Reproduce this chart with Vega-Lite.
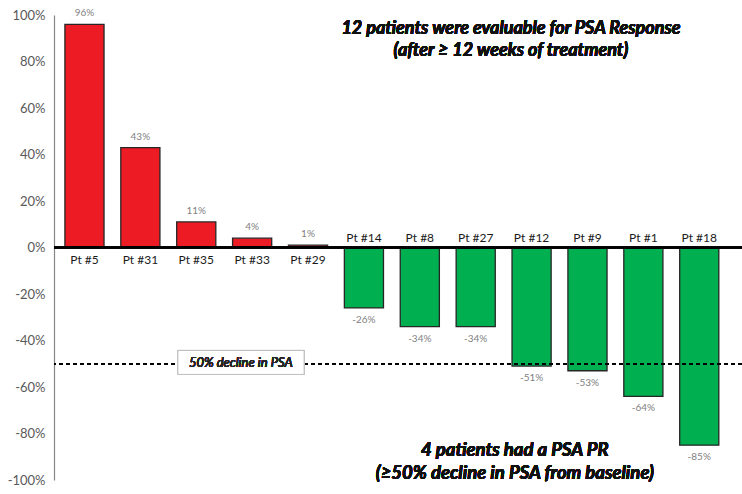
{
  "$schema": "https://vega.github.io/schema/vega-lite/v6.json",
  "autosize": {"type": "none"},
  "width": 688,
  "height": 465,
  "padding": {"left": 54, "top": 15, "right": 0, "bottom": 14},
  "background": "white",
  "config": {"view": {"stroke": null}, "font": "Lato"},
  "data": {"values": [
    {"pt": "Pt #5", "pct": 96},
    {"pt": "Pt #31", "pct": 43},
    {"pt": "Pt #35", "pct": 11},
    {"pt": "Pt #33", "pct": 4},
    {"pt": "Pt #29", "pct": 1},
    {"pt": "Pt #14", "pct": -26},
    {"pt": "Pt #8", "pct": -34},
    {"pt": "Pt #27", "pct": -34},
    {"pt": "Pt #12", "pct": -51},
    {"pt": "Pt #9", "pct": -53},
    {"pt": "Pt #1", "pct": -64},
    {"pt": "Pt #18", "pct": -85}
  ]},
  "transform": [{"calculate": "datum.pct + '%'", "as": "lab"}],
  "encoding": {
    "x": {"field": "pt", "type": "nominal", "sort": null, "axis": null,
      "scale": {"paddingInner": 0.3, "paddingOuter": 0.305, "align": 0.32}}
  },
  "layer": [
    {
      "mark": {"type": "bar", "stroke": "#262626", "strokeWidth": 1.3},
      "encoding": {
        "y": {"field": "pct", "type": "quantitative",
          "scale": {"domain": [-100, 100], "nice": false},
          "axis": {"values": [-100, -80, -60, -40, -20, 0, 20, 40, 60, 80, 100],
            "labelExpr": "datum.value + '%'", "title": null, "grid": false, "ticks": false,
            "domainColor": "#868686", "domainWidth": 1.2, "labelColor": "#595959",
            "labelFontSize": 13, "labelPadding": 9, "labelFont": "Lato"}},
        "fill": {"condition": {"test": "datum.pct > 0", "value": "#ED1C24"}, "value": "#00B050"}
      }
    },
    {
      "mark": {"type": "rule", "color": "black", "strokeWidth": 1.3},
      "encoding": {"y": {"datum": 0, "type": "quantitative"}, "x": null}
    },
    {
      "mark": {"type": "rule", "color": "black", "strokeWidth": 1, "strokeDash": [4, 3]},
      "encoding": {"y": {"datum": -50, "type": "quantitative"}, "x": null}
    },
    {
      "mark": {"type": "rect", "fill": "white", "stroke": "#BFBFBF", "strokeWidth": 1},
      "encoding": {
        "x": {"datum": "Pt #35", "bandPosition": 0.03},
        "x2": {"datum": "Pt #29", "bandPosition": 0.4},
        "y": {"datum": -44.3, "type": "quantitative"},
        "y2": {"datum": -54.6}
      }
    },
    {
      "mark": {"type": "text", "fontSize": 13, "fontStyle": "italic", "fontWeight": "normal", "color": "#262626"},
      "encoding": {
        "x": {"datum": "Pt #33", "bandPosition": 0.21},
        "y": {"datum": -49.5, "type": "quantitative"},
        "text": {"value": "50% decline in PSA"}
      }
    },
    {
      "transform": [{"filter": "datum.pct > 0"}],
      "mark": {"type": "text", "fontSize": 12, "color": "#1a1a1a", "dy": 12},
      "encoding": {"y": {"datum": 0, "type": "quantitative"}, "text": {"field": "pt"}}
    },
    {
      "transform": [{"filter": "datum.pct < 0"}],
      "mark": {"type": "text", "fontSize": 12, "color": "#1a1a1a", "dy": -10},
      "encoding": {"y": {"datum": 0, "type": "quantitative"}, "text": {"field": "pt"}}
    },
    {
      "transform": [{"filter": "datum.pct > 0"}],
      "mark": {"type": "text", "fontSize": 10, "color": "#7f7f7f", "dy": -11},
      "encoding": {"y": {"field": "pct", "type": "quantitative"}, "text": {"field": "lab"}}
    },
    {
      "transform": [{"filter": "datum.pct < 0"}],
      "mark": {"type": "text", "fontSize": 10, "color": "#7f7f7f", "dy": 12},
      "encoding": {"y": {"field": "pct", "type": "quantitative"}, "text": {"field": "lab"}}
    },
    {
      "mark": {"type": "text", "fontSize": 18, "fontStyle": "italic", "fontWeight": "bold", "color": "#111"},
      "encoding": {
        "x": {"datum": "Pt #27", "bandPosition": 1.4},
        "y": {"datum": 93.8, "type": "quantitative"},
        "text": {"value": "12 patients were evaluable for PSA Response"}
      }
    },
    {
      "mark": {"type": "text", "fontSize": 18, "fontStyle": "italic", "fontWeight": "bold", "color": "#111"},
      "encoding": {
        "x": {"datum": "Pt #27", "bandPosition": 1.4},
        "y": {"datum": 84.7, "type": "quantitative"},
        "text": {"value": "(after ≥ 12 weeks of treatment)"}
      }
    },
    {
      "mark": {"type": "text", "fontSize": 18.5, "fontStyle": "italic", "fontWeight": "bold", "color": "#111"},
      "encoding": {
        "x": {"datum": "Pt #27", "bandPosition": 1.5},
        "y": {"datum": -86.9, "type": "quantitative"},
        "text": {"value": "4 patients had a PSA PR"}
      }
    },
    {
      "mark": {"type": "text", "fontSize": 18.5, "fontStyle": "italic", "fontWeight": "bold", "color": "#111"},
      "encoding": {
        "x": {"datum": "Pt #27", "bandPosition": 1.5},
        "y": {"datum": -96.8, "type": "quantitative"},
        "text": {"value": "(≥50% decline in PSA from baseline)"}
      }
    }
  ]
}
